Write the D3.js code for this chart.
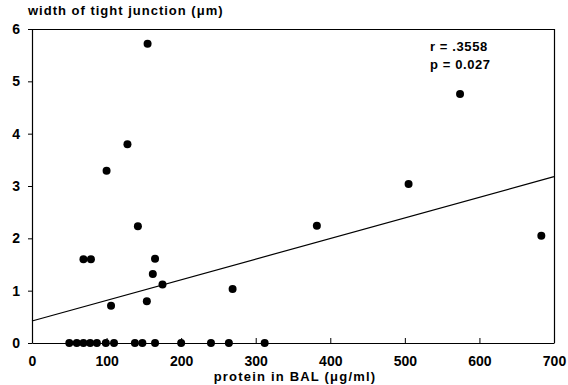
<!DOCTYPE html>
<html>
<head>
<meta charset="utf-8">
<script src="https://cdn.jsdelivr.net/npm/d3@7"></script>
<style>
  body { margin: 0; background: #fff; }
  svg { display: block; }
  text { font-family: "Liberation Sans", Arial, sans-serif; font-weight: bold; fill: #000; }
</style>
</head>
<body>
<svg class="main" width="568" height="385"></svg>
<script>
// protein in BAL (ug/ml) vs width of tight junction (um)
const proteinX = [
  155, 128, 100, 142, 69, 79, 165, 162, 175, 106, 154, 269, 382, 505, 574, 683,
  50, 60, 69, 78, 87, 99, 110, 138, 148, 165, 200, 240, 264, 312
];
const widthY = [
  5.72, 3.80, 3.29, 2.23, 1.60, 1.60, 1.61, 1.32, 1.12, 0.71, 0.80, 1.03, 2.24, 3.04, 4.76, 2.05,
  0, 0, 0, 0, 0, 0, 0, 0, 0, 0, 0, 0, 0, 0
];
const fitX = [0, 700];
const fitY = [0.42, 3.18];
const xTicks = [0, 100, 200, 300, 400, 500, 600, 700];
const yTicks = [0, 1, 2, 3, 4, 5, 6];
const stats = ["r = .3558", "p = 0.027"];

const svg = d3.select(".main");
const x = d3.scaleLinear().domain([0, 700]).range([32, 554]);
const y = d3.scaleLinear().domain([0, 6]).range([343, 29]);

// frame: top + right borders
svg.append("path")
  .attr("d", `M${x(0)},${y(6) + 0.5}H${x(700) + 0.5}V${y(0)}`)
  .attr("fill", "none")
  .attr("stroke", "#000")
  .attr("stroke-width", 1.2);

const xAxis = svg.append("g")
  .attr("transform", `translate(0,${y(0)})`)
  .call(d3.axisBottom(x).tickValues(xTicks).tickFormat(d3.format("d"))
    .tickSizeInner(-5).tickSizeOuter(0).tickPadding(13));
xAxis.selectAll("text").attr("font-size", 14);

const yAxis = svg.append("g")
  .attr("transform", `translate(${x(0)},0)`)
  .call(d3.axisLeft(y).tickValues(yTicks).tickFormat(d3.format("d"))
    .tickSizeInner(4).tickSizeOuter(0).tickPadding(8));
yAxis.selectAll("text").attr("font-size", 14);

svg.selectAll(".domain").attr("stroke-width", 1.2);

// regression line
svg.append("line")
  .attr("x1", x(fitX[0])).attr("y1", y(fitY[0]))
  .attr("x2", x(fitX[1])).attr("y2", y(fitY[1]))
  .attr("stroke", "#000")
  .attr("stroke-width", 1.2);

svg.append("g")
  .selectAll("circle")
  .data(proteinX)
  .join("circle")
  .attr("cx", d => x(d))
  .attr("cy", (d, i) => y(widthY[i]))
  .attr("r", 4)
  .attr("fill", "#000");

svg.append("text")
  .attr("x", 28).attr("y", 15)
  .attr("font-size", 13)
  .attr("letter-spacing", 1)
  .text("width of tight junction (μm)");

svg.append("text")
  .attr("x", 295).attr("y", 381)
  .attr("text-anchor", "middle")
  .attr("font-size", 13)
  .attr("letter-spacing", 1.2)
  .text("protein in BAL (μg/ml)");

svg.append("g")
  .selectAll("text")
  .data(stats)
  .join("text")
  .attr("x", 430)
  .attr("y", (d, i) => 51 + i * 18)
  .attr("font-size", 13)
  .attr("letter-spacing", 0.6)
  .text(d => d);
</script>
</body>
</html>
